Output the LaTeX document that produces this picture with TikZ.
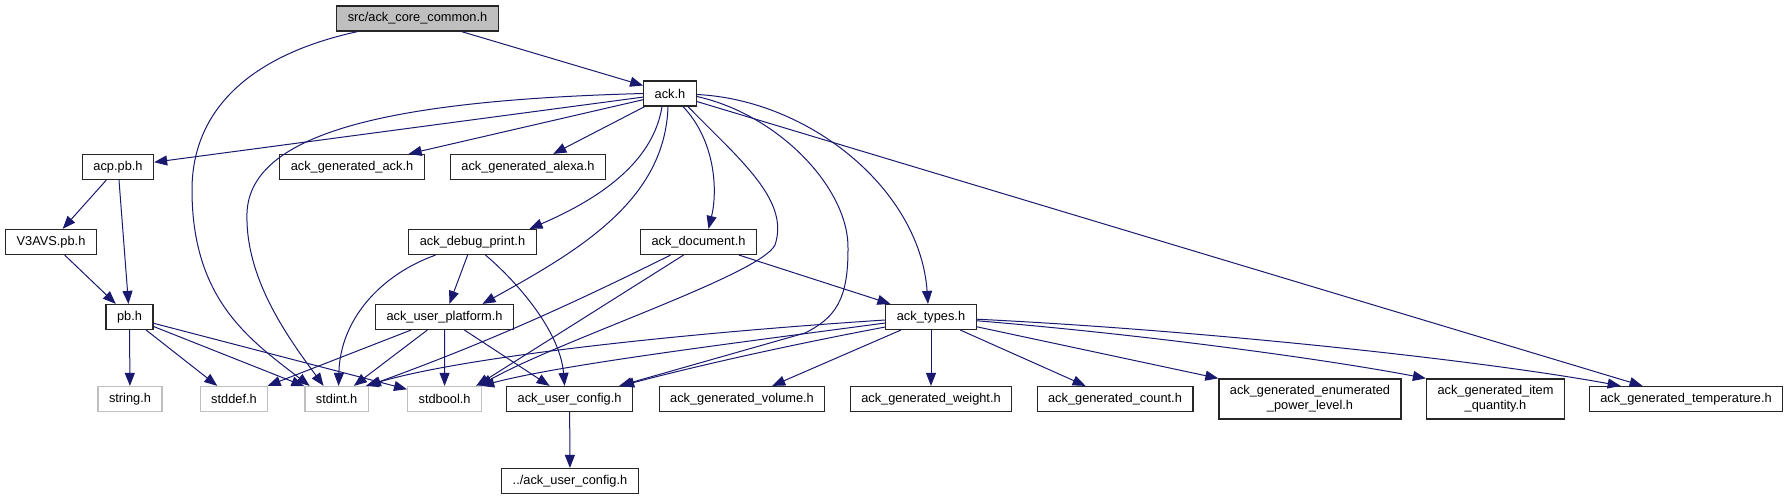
\documentclass[tikz,border=0pt]{standalone}
\usepackage{fontspec}
\setmainfont{Liberation Sans}
\usetikzlibrary{arrows.meta}
\definecolor{edgeblue}{HTML}{191970}
\definecolor{greyseventyfive}{HTML}{BFBFBF}

\begin{document}
\begin{tikzpicture}[
    x=1pt, y=-1pt, % 按像素坐标, y 向下
    hdr/.style={
        draw=black!85, fill=white, line width=1.2pt, rectangle,
        minimum height=25pt, inner xsep=11pt, inner ysep=4pt,
        font=\fontsize{12.8}{14.7}\selectfont
    },
    syshdr/.style={hdr, draw=greyseventyfive},   % 系统头文件
    roothdr/.style={hdr, fill=greyseventyfive},  % 当前文件
    twoline/.style={hdr, align=center, minimum height=40pt},
    dep/.style={draw=edgeblue, line width=1pt,
        -{Triangle[length=13pt,width=10pt]}}
]
  \fill[white] (0,0) rectangle (1789,500);
  \useasboundingbox (0,0) rectangle (1789,500);

  % 文件节点
  \node[roothdr] (core) at (417.5,18.5) {src/ack\_core\_common.h};
  \node[hdr] (ack) at (670,93.5) {ack.h};
  \node[hdr] (acppb) at (118,167) {acp.pb.h};
  \node[hdr] (genack) at (352,167) {ack\_generated\_ack.h};
  \node[hdr] (genalexa) at (528,167) {ack\_generated\_alexa.h};
  \node[hdr] (vavs) at (51,242) {V3AVS.pb.h};
  \node[hdr] (dbgprint) at (472.5,242) {ack\_debug\_print.h};
  \node[hdr] (document) at (698.5,242) {ack\_document.h};
  \node[hdr] (pb) at (129.5,317) {pb.h};
  \node[hdr] (platform) at (444.5,317) {ack\_user\_platform.h};
  \node[hdr] (types) at (931,317) {ack\_types.h};
  \node[syshdr] (string) at (130,399) {string.h};
  \node[syshdr] (stddef) at (234,399) {stddef.h};
  \node[syshdr] (stdint) at (336.6,399) {stdint.h};
  \node[syshdr] (stdbool) at (444.6,399) {stdbool.h};
  \node[hdr] (config) at (569.6,399) {ack\_user\_config.h};
  \node[hdr] (volume) at (742,399) {ack\_generated\_volume.h};
  \node[hdr] (weight) at (931,399) {ack\_generated\_weight.h};
  \node[hdr] (count) at (1115,399) {ack\_generated\_count.h};
  \node[twoline] (power) at (1310,399) {ack\_generated\_enumerated\\\_power\_level.h};
  \node[twoline] (quantity) at (1495.5,399) {ack\_generated\_item\\\_quantity.h};
  \node[hdr] (temperature) at (1686,399) {ack\_generated\_temperature.h};
  \node[hdr] (configext) at (570,481) {../ack\_user\_config.h};

  % src/ack_core_common.h
  \draw[dep] (core) -- (ack);
  \draw[dep] ([xshift=-60pt]core.south) .. controls (250,55) and (192,110) .. (192,190)
      .. controls (192,300) and (250,340) .. ([xshift=-27pt]stdint.north);

  % ack.h
  \draw[dep] (ack.west) .. controls (400,100) and (250,130) .. (247,213)
      .. controls (245,280) and (290,340) .. ([xshift=-13pt]stdint.north);
  \draw[dep] (ack) -- (acppb);
  \draw[dep] (ack) -- (genack);
  \draw[dep] (ack) -- (genalexa);
  \draw[dep] ([xshift=-8pt]ack.south) .. controls (655,150) and (620,190) .. ([xshift=57pt]dbgprint.north);
  \draw[dep] ([xshift=13pt]ack.south) .. controls (715,140) and (718,190) .. ([xshift=10pt]document.north);
  \draw[dep] ([xshift=-2pt]ack.south) .. controls (665,200) and (580,250) .. ([xshift=38pt]platform.north);
  \draw[dep] ([xshift=18pt]ack.south) .. controls (740,160) and (790,200) .. (775,245)
      .. controls (760,275) and (560,340) .. ([xshift=-3pt]stdbool.north east);
  \draw[dep] ([yshift=-3pt]ack.east) .. controls (780,115) and (850,190) .. (848,250)
      .. controls (848,300) and (835,318) .. (805,333) -- ([xshift=-14pt]config.north east);
  \draw[dep] ([yshift=-1pt]ack.east) .. controls (810,100) and (920,190) .. ([xshift=-3pt]types.north);
  \draw[dep] (ack) -- (temperature);

  % acp.pb.h, V3AVS.pb.h
  \draw[dep] (acppb) -- (vavs);
  \draw[dep] (acppb) -- (pb);
  \draw[dep] (vavs) -- (pb);

  % pb.h
  \draw[dep] (pb) -- (string);
  \draw[dep] (pb) -- (stddef);
  \draw[dep] (pb) -- (stdint);
  \draw[dep] (pb) -- (stdbool);

  % ack_debug_print.h
  \draw[dep] ([xshift=-37pt]dbgprint.south) .. controls (380,275) and (340,320) .. ([xshift=2pt]stdint.north);
  \draw[dep] (dbgprint) -- (platform);
  \draw[dep] ([xshift=13pt]dbgprint.south) .. controls (515,280) and (560,330) .. ([xshift=-5pt]config.north);

  % ack_document.h
  \draw[dep] (document) -- (types);
  \draw[dep] ([xshift=-28pt]document.south) .. controls (560,310) and (480,345) .. ([xshift=-1pt]stdint.north east);
  \draw[dep] ([xshift=-15pt]document.south) -- ([xshift=-6pt]stdbool.north east);

  % ack_user_platform.h
  \draw[dep] (platform) -- (stddef);
  \draw[dep] (platform) -- (stdint);
  \draw[dep] (platform) -- (stdbool);
  \draw[dep] (platform) -- (config);

  % ack_types.h
  \draw[dep] ([yshift=-3pt]types.west) .. controls (700,332) and (470,355) .. ([xshift=-3pt]stdint.north east);
  \draw[dep] ([yshift=-6pt]types.west) .. controls (720,345) and (560,365) .. ([xshift=-1pt]stdbool.north east);
  \draw[dep] ([yshift=-10pt]types.west) .. controls (790,345) and (700,365) .. ([xshift=-12pt]config.north east);
  \draw[dep] (types) -- (volume);
  \draw[dep] (types) -- (weight);
  \draw[dep] (types) -- (count);
  \draw[dep] (types) -- (power.north west);
  \draw[dep] (types) .. controls (1150,335) and (1330,360) .. (quantity.north west);
  \draw[dep] (types) .. controls (1200,330) and (1480,360) .. ([xshift=32pt]temperature.north west);

  % ack_user_config.h
  \draw[dep] (config) -- (configext);
\end{tikzpicture}
\end{document}
